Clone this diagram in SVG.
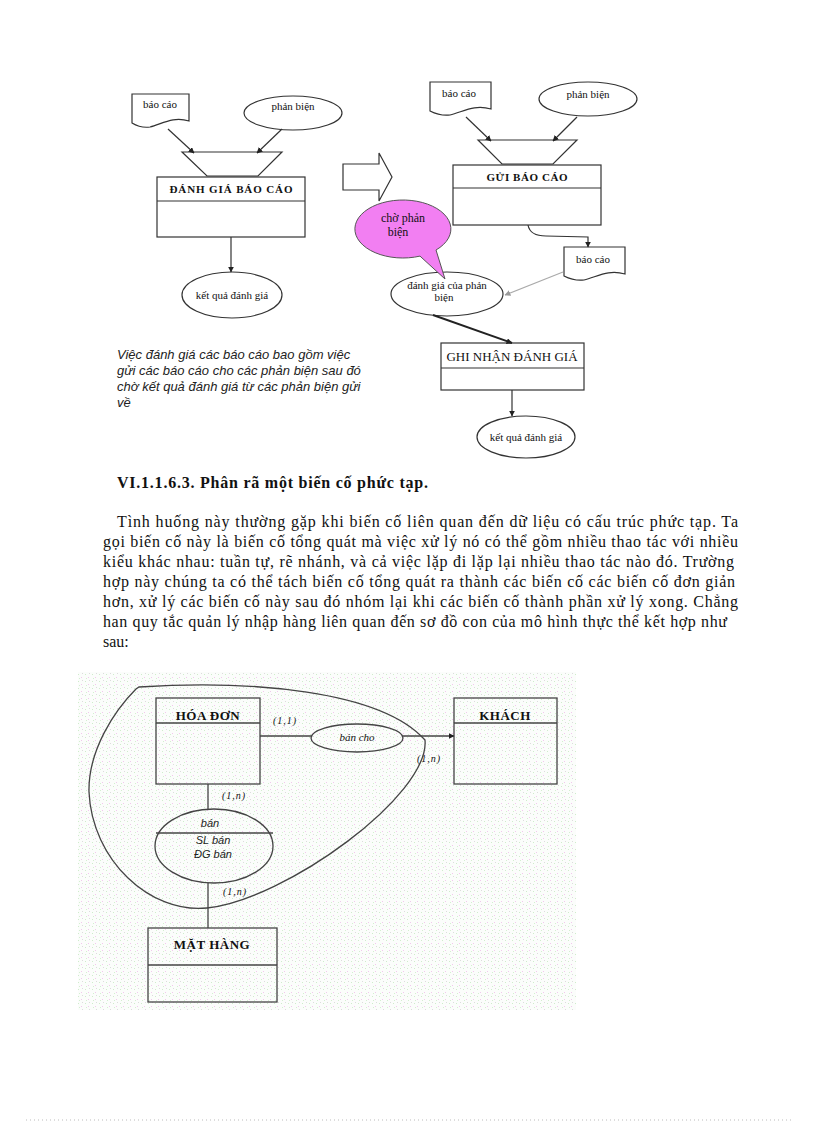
<svg xmlns="http://www.w3.org/2000/svg" width="816" height="1123" viewBox="0 0 816 1123">
<style>
.s{fill:#fff;stroke:#333;stroke-width:1.2}
.n{fill:none;stroke:#333;stroke-width:1.2}
.t{font-family:"Liberation Serif","Times New Roman",serif;fill:#111}
.sm{font-size:11px}
.b{font-weight:bold}
.it{font-style:italic}
.ar{font-family:"Liberation Sans",Arial,sans-serif}
.c{text-anchor:middle}
.er{fill:none;stroke:#444;stroke-width:1.3}
</style>
<defs>
<marker id="ah" viewBox="0 0 10 10" refX="9" refY="5" markerWidth="6" markerHeight="6" orient="auto" markerUnits="userSpaceOnUse"><path d="M0,0 L10,5 L0,10 Z" fill="#222"/></marker>
<marker id="ahg" viewBox="0 0 10 10" refX="9" refY="5" markerWidth="6" markerHeight="6" orient="auto" markerUnits="userSpaceOnUse"><path d="M0,0 L10,5 L0,10 Z" fill="#999"/></marker>
<pattern id="spk" width="7" height="7" patternUnits="userSpaceOnUse">
<rect width="7" height="7" fill="#fbfdfb"/>
<rect x="1" y="2" width="1" height="1" fill="#cfeccb"/>
<rect x="4" y="5" width="1" height="1" fill="#f2c8ee"/>
<rect x="5" y="1" width="1" height="1" fill="#dcdcdc"/>
<rect x="2" y="6" width="1" height="1" fill="#d4efd0"/>
</pattern>
</defs>
<rect width="816" height="1123" fill="#fff"/>

<!-- ===== Top-left diagram ===== -->
<g id="tl-baocao"><path class="s" d="M132,94 H189 V121 C173,116 162,124 150,127 C143,128 137,126 132,123 Z"/><text class="t sm c" x="160" y="108">báo cáo</text></g>
<g id="tl-phanbien"><ellipse class="s" cx="293" cy="113" rx="49" ry="17"/><text class="t sm c" x="293" y="110">phản biện</text></g>
<g id="tl-trap"><polygon class="s" points="182,152 282,152 258,176 207,176"/></g>
<g id="tl-danhgia"><rect class="s" x="157" y="177" width="148" height="60"/><line class="n" x1="157" y1="201" x2="305" y2="201"/><text class="t b c" x="231" y="193" font-size="11" textLength="123">ĐÁNH GIÁ BÁO CÁO</text></g>
<g id="tl-ketqua"><ellipse class="s" cx="232" cy="295" rx="50" ry="23"/><text class="t sm c" x="232" y="299">kết quả đánh giá</text></g>

<!-- block arrow -->
<g id="bigarrow"><polygon class="s" points="343,164 379,164 379,153 392,177 379,201 379,190 343,190"/></g>

<!-- ===== Top-right diagram ===== -->
<g id="tr-baocao"><path class="s" d="M430,82 H491 V109 C474,104 463,112 450,115 C442,116 436,114 430,111 Z"/><text class="t sm c" x="459" y="97">báo cáo</text></g>
<g id="tr-phanbien"><ellipse class="s" cx="588" cy="99" rx="49" ry="17"/><text class="t sm c" x="588" y="98">phản biện</text></g>
<g id="tr-trap"><polygon class="s" points="478,140 577,140 553,164 502,164"/></g>
<g id="tr-gui"><rect class="s" x="453" y="165" width="148" height="60"/><line class="n" x1="453" y1="188" x2="601" y2="188"/><text class="t b c" x="527" y="181" font-size="11" textLength="81">GỬI BÁO CÁO</text></g>
<g id="tr-baocao2"><path class="s" d="M564,247 H625 V274 C608,269 597,277 584,280 C576,281 570,279 564,276 Z"/><text class="t sm c" x="593" y="263">báo cáo</text></g>
<g id="tr-danhgiapb"><ellipse class="s" cx="447" cy="294" rx="56" ry="22"/><text class="t sm c" x="447" y="289">đánh giá của phản</text><text class="t sm c" x="444" y="301">biện</text></g>
<g id="bubble"><path d="M436,250 A48,29 0 1,0 420,256.1 L445,279 Z" fill="#f27ff2" stroke="#555" stroke-width="1"/><text class="t c" font-size="12" x="403" y="222">chờ phản</text><text class="t c" font-size="12" x="398" y="236">biện</text></g>
<g id="tr-ghinhan"><rect class="s" x="441" y="343" width="143" height="47"/><line class="n" x1="441" y1="368" x2="584" y2="368"/><text class="t c" x="512" y="361" font-size="13">GHI NHẬN ĐÁNH GIÁ</text></g>
<g id="tr-ketqua"><ellipse class="s" cx="526" cy="437" rx="49" ry="21"/><text class="t sm c" x="526" y="441">kết quả đánh giá</text></g>

<!-- connectors top -->
<g id="connectors-top">
<line class="n" x1="168" y1="129" x2="194" y2="153" marker-end="url(#ah)"/>
<line class="n" x1="282" y1="129" x2="257" y2="153" marker-end="url(#ah)"/>
<line class="n" x1="231" y1="237" x2="231" y2="272" marker-end="url(#ah)"/>
<line class="n" x1="466" y1="117" x2="491" y2="141" marker-end="url(#ah)"/>
<line class="n" x1="577" y1="117" x2="553" y2="141" marker-end="url(#ah)"/>
<path class="n" d="M528,225 Q530,236 546,236 L588,237 L588,247" marker-end="url(#ah)"/>
<line x1="563" y1="272" x2="505" y2="295" stroke="#aaa" stroke-width="1.2" marker-end="url(#ahg)"/>
<line x1="433" y1="315" x2="512" y2="343" stroke="#222" stroke-width="2" marker-end="url(#ah)"/>
<line class="n" x1="512" y1="390" x2="512" y2="416" marker-end="url(#ah)"/>
</g>

<!-- italic note -->
<g id="note" font-family="Liberation Sans, Arial, sans-serif" font-style="italic" font-size="13" fill="#222">
<text x="117" y="359">Việc đánh giá các báo cáo bao gồm việc</text>
<text x="117" y="375">gửi các báo cáo cho các phản biện sau đó</text>
<text x="117" y="391">chờ kết quả đánh giá từ các phản biện gửi</text>
<text x="117" y="407">về</text>
</g>

<!-- heading and paragraph -->
<text class="t b" x="117" y="488" font-size="16" textLength="311">VI.1.1.6.3. Phân rã một biến cố phức tạp.</text>
<g id="para" class="t" font-size="16">
<text x="117" y="527" textLength="621" lengthAdjust="spacing">Tình huống này thường gặp khi biến cố liên quan đến dữ liệu có cấu trúc phức tạp. Ta</text>
<text x="103" y="547" textLength="635" lengthAdjust="spacing">gọi biến cố này là biến cố tổng quát mà việc xử lý nó có thể gồm nhiều thao tác với nhiều</text>
<text x="103" y="567" textLength="631" lengthAdjust="spacing">kiểu khác nhau:  tuần tự, rẽ nhánh,  và cả việc lặp đi lặp lại nhiều thao tác nào đó. Trường</text>
<text x="103" y="587" textLength="632" lengthAdjust="spacing">hợp này  chúng ta có thể tách biến cố tổng quát ra thành  các biến cố các biến cố đơn giản</text>
<text x="103" y="607" textLength="635" lengthAdjust="spacing">hơn, xử lý các biến cố này  sau đó nhóm lại khi  các biến cố thành phần xử lý xong. Chẳng</text>
<text x="103" y="627" textLength="624" lengthAdjust="spacing">han quy tắc quản lý nhập  hàng  liên quan đến sơ đồ con của mô hình thực thể kết hợp như</text>
<text x="103" y="647">sau:</text>
</g>

<!-- ===== ER diagram ===== -->
<rect x="78" y="672" width="498" height="338" fill="url(#spk)"/>
<g id="er-connectors">
<line class="er" x1="260" y1="736" x2="311" y2="736"/>
<line class="er" x1="403" y1="736" x2="454" y2="736" marker-end="url(#ah)"/>
<line class="er" x1="208" y1="784" x2="208" y2="810"/>
<line class="er" x1="208" y1="883" x2="208" y2="928"/>
</g>
<g id="blob"><path class="er" d="M136,689 L139,687 C250,680 380,690 425,740 C430,795 285,900 207,908 C150,914 92,860 89,792 C88,750 115,710 136,689 Z"/></g>
<g id="hoadon"><rect class="er" x="156" y="698" width="104" height="86"/><line class="er" x1="156" y1="723" x2="260" y2="723"/><text class="t b c" x="208" y="720" font-size="13" letter-spacing="0.5">HÓA ĐƠN</text></g>
<g id="khach"><rect class="er" x="454" y="698" width="103" height="86"/><line class="er" x1="454" y1="723" x2="557" y2="723"/><text class="t b c" x="505" y="720" font-size="13" letter-spacing="0.5">KHÁCH</text></g>
<g id="mathang"><rect class="er" x="148" y="928" width="129" height="74"/><line class="er" x1="148" y1="965" x2="277" y2="965"/><text class="t b c" x="212" y="949" font-size="13" letter-spacing="0.5">MẶT HÀNG</text></g>
<g id="bancho"><ellipse class="er" cx="357" cy="738" rx="46" ry="14"/><text class="t it c" x="357" y="741" font-size="11">bán cho</text></g>
<g id="ban"><ellipse class="er" cx="214" cy="846" rx="59" ry="37"/><line class="er" x1="156" y1="833" x2="273" y2="833"/>
<text class="ar it c" x="210" y="827" font-size="11" fill="#222">bán</text>
<text class="ar it c" x="213" y="844" font-size="11" fill="#222">SL bán</text>
<text class="ar it c" x="213" y="858" font-size="11" fill="#222">ĐG bán</text></g>
<g id="card" class="t it" font-size="10" fill="#222" letter-spacing="1">
<text x="273" y="724">(1,1)</text>
<text x="222" y="799">(1,n)</text>
<text x="417" y="762">(1,n)</text>
<text x="223" y="895">(1,n)</text>
</g>
<line x1="26" y1="1120" x2="792" y2="1120" stroke="#bbb" stroke-width="1" stroke-dasharray="1,3"/>
</svg>
